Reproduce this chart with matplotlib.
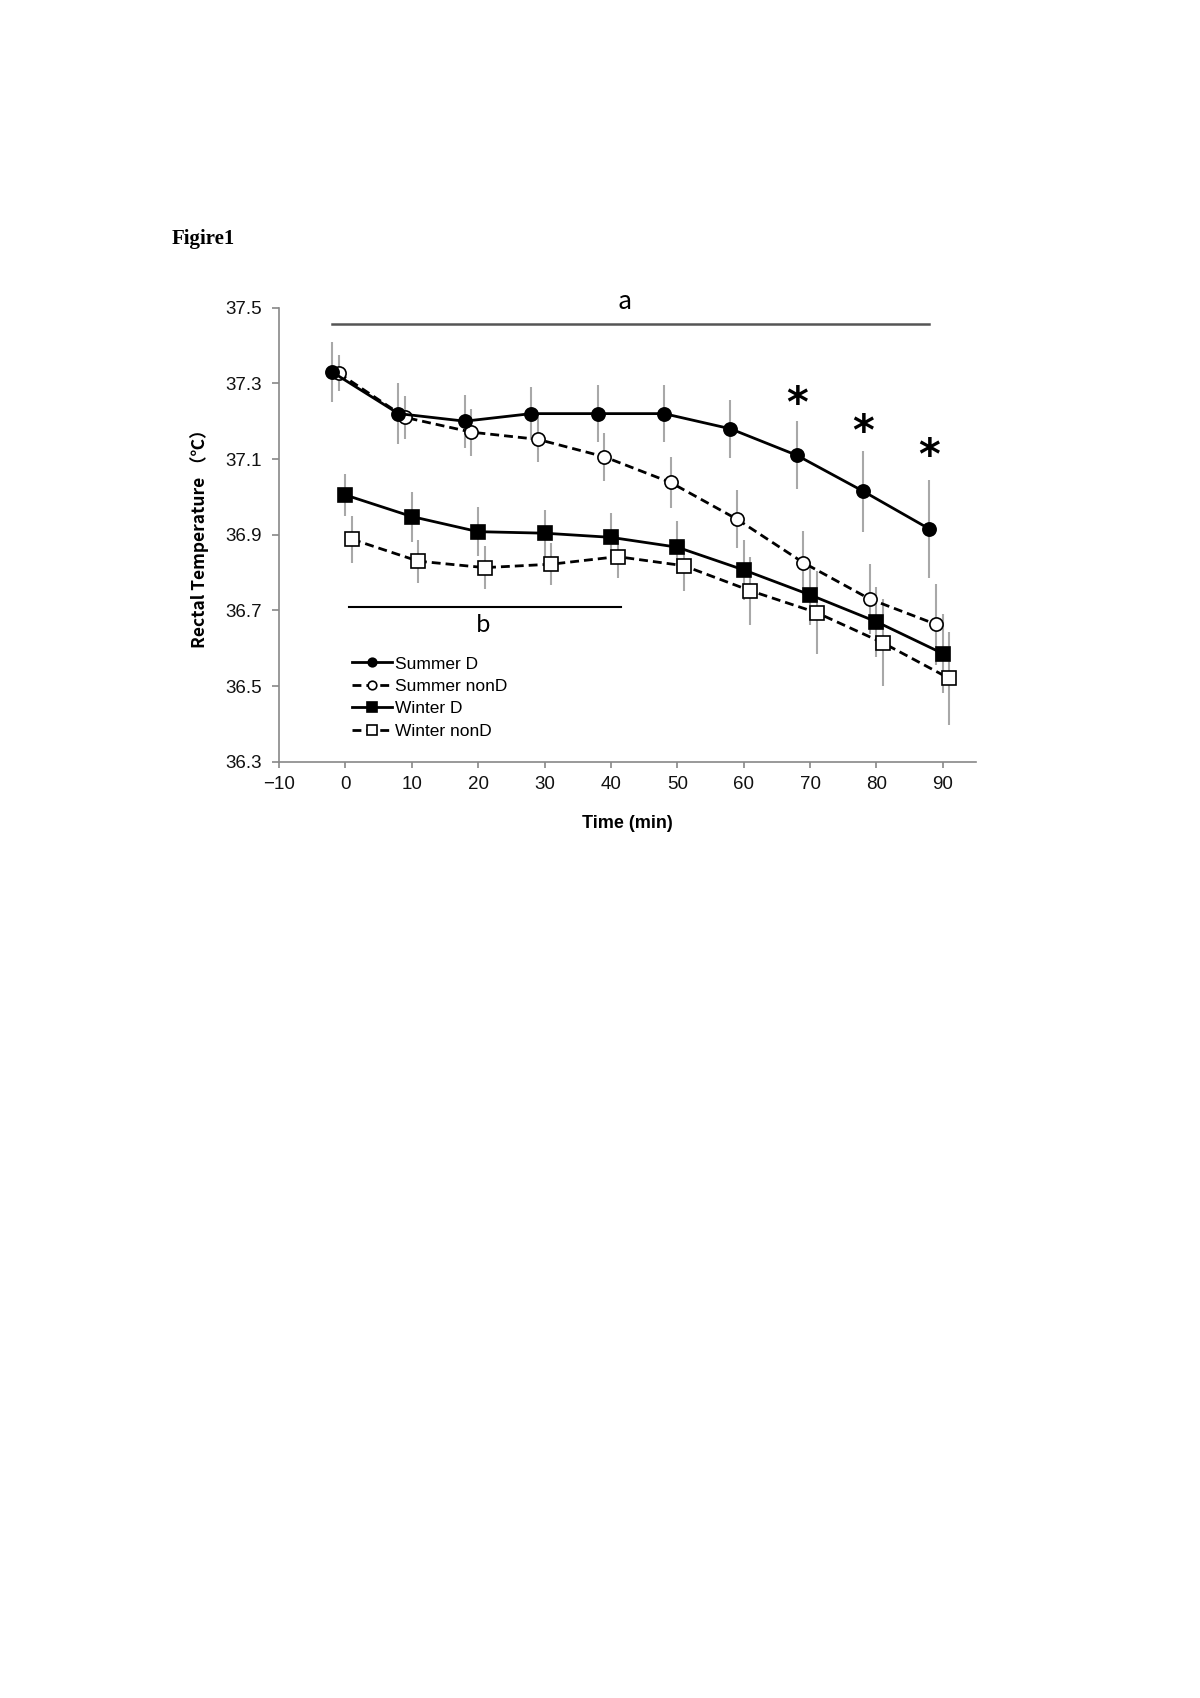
import numpy as np
import matplotlib
matplotlib.use('Agg')
import matplotlib.pyplot as plt

# Rectal temperature, mean and SE
time = [0, 10, 20, 30, 40, 50, 60, 70, 80, 90]

summer_d = [37.33, 37.22, 37.20, 37.22, 37.22, 37.22, 37.18, 37.11, 37.015, 36.915]
summer_d_se = [0.08, 0.08, 0.07, 0.07, 0.075, 0.075, 0.076, 0.09, 0.107, 0.13]

summer_nond = [37.327, 37.21, 37.171, 37.152, 37.106, 37.038, 36.941, 36.826, 36.73, 36.663]
summer_nond_se = [0.048, 0.057, 0.062, 0.06, 0.064, 0.068, 0.077, 0.085, 0.092, 0.108]

winter_d = [37.005, 36.948, 36.908, 36.904, 36.893, 36.867, 36.807, 36.741, 36.67, 36.586]
winter_d_se = [0.055, 0.066, 0.064, 0.062, 0.065, 0.07, 0.08, 0.08, 0.093, 0.105]

winter_nond = [36.888, 36.83, 36.813, 36.822, 36.842, 36.818, 36.752, 36.694, 36.614, 36.52]
winter_nond_se = [0.062, 0.057, 0.057, 0.056, 0.057, 0.066, 0.09, 0.11, 0.115, 0.124]

# significance marks
star_x = [68, 78, 88]
star_y = [37.256, 37.181, 37.117]

plt.rcParams['font.family'] = ['Liberation Sans', 'DejaVu Sans']

fig = plt.figure(figsize=(12, 16.98), dpi=100)
ax = fig.add_axes([0.2325, 0.5514, 0.5808, 0.2674])

fig.text(0.143, 0.859, 'Figire1', fontsize=15, fontweight='bold',
         family='Liberation Serif', va='center', ha='left')

t = np.array(time)
series = [
    # label, x offset, values, se, marker, face, linestyle
    ('Summer D', -2, summer_d, summer_d_se, 'o', 'black', '-'),
    ('Summer nonD', -1, summer_nond, summer_nond_se, 'o', 'white', (0, (3.2, 1.8))),
    ('Winter D', 0, winter_d, winter_d_se, 's', 'black', '-'),
    ('Winter nonD', 1, winter_nond, winter_nond_se, 's', 'white', (0, (3.2, 1.8))),
]

for lab, off, vals, se, mk, fc, ls in series:
    ax.errorbar(t + off, vals, yerr=se, fmt='none', ecolor='#a8a8a8',
                elinewidth=1.5, capsize=0, zorder=1)

for i, (lab, off, vals, se, mk, fc, ls) in enumerate(series):
    ms = 9.5 if mk == 'o' else 10
    ax.plot(t + off, vals, color='black', lw=2, linestyle=ls, marker=mk,
            markersize=ms, markerfacecolor=fc, markeredgecolor='black',
            markeredgewidth=1.2, label=lab, zorder=3 + (4 - i))

# bracket lines a and b
ax.plot([-2, 88], [37.457, 37.457], color='#555555', lw=1.8, zorder=2)
ax.text(42, 37.516, 'a', fontsize=18, family='Noto Sans CJK JP',
        ha='center', va='center', clip_on=False)
ax.plot([0.5, 41.5], [36.708, 36.708], color='black', lw=1.5, zorder=2)
ax.text(20.7, 36.66, 'b', fontsize=17, family='Noto Sans CJK JP',
        ha='center', va='center')

for sx, sy in zip(star_x, star_y):
    ax.text(sx, sy - 0.012, '*', fontsize=30, fontweight='bold',
            family='DejaVu Sans', ha='center', va='center')

ax.set_xlim(-10, 95)
ax.set_ylim(36.3, 37.5)
ax.set_xticks([-10, 0, 10, 20, 30, 40, 50, 60, 70, 80, 90])
ax.set_xticklabels(['\u221210', '0', '10', '20', '30', '40', '50', '60', '70', '80', '90'])
ax.set_yticks([36.3, 36.5, 36.7, 36.9, 37.1, 37.3, 37.5])
ax.set_yticklabels(['36.3', '36.5', '36.7', '36.9', '37.1', '37.3', '37.5'])

for s in ['top', 'right']:
    ax.spines[s].set_visible(False)
for s in ['left', 'bottom']:
    ax.spines[s].set_color('#888888')
    ax.spines[s].set_linewidth(1.2)

ax.tick_params(axis='both', colors='#888888', labelcolor='#111111',
               labelsize=13.5, width=1.2)
ax.tick_params(axis='y', length=5, pad=7)
ax.tick_params(axis='x', length=4, pad=6)

ax.set_ylabel('Rectal Temperature （℃）', fontsize=12.5, fontweight='bold',
              family=['Noto Sans CJK JP', 'DejaVu Sans'], labelpad=12)
ax.set_xlabel('Time (min)', fontsize=13, fontweight='bold', labelpad=16)

leg = ax.legend(loc='upper left', bbox_to_anchor=(0.105, 0.232), frameon=False,
                fontsize=12.5, handlelength=2.3, handletextpad=0.15,
                labelspacing=0.42, borderpad=0, borderaxespad=0, markerscale=0.65)
for h in leg.legend_handles:
    h.set_linewidth(2)

fig.savefig('out.png', dpi=100)
